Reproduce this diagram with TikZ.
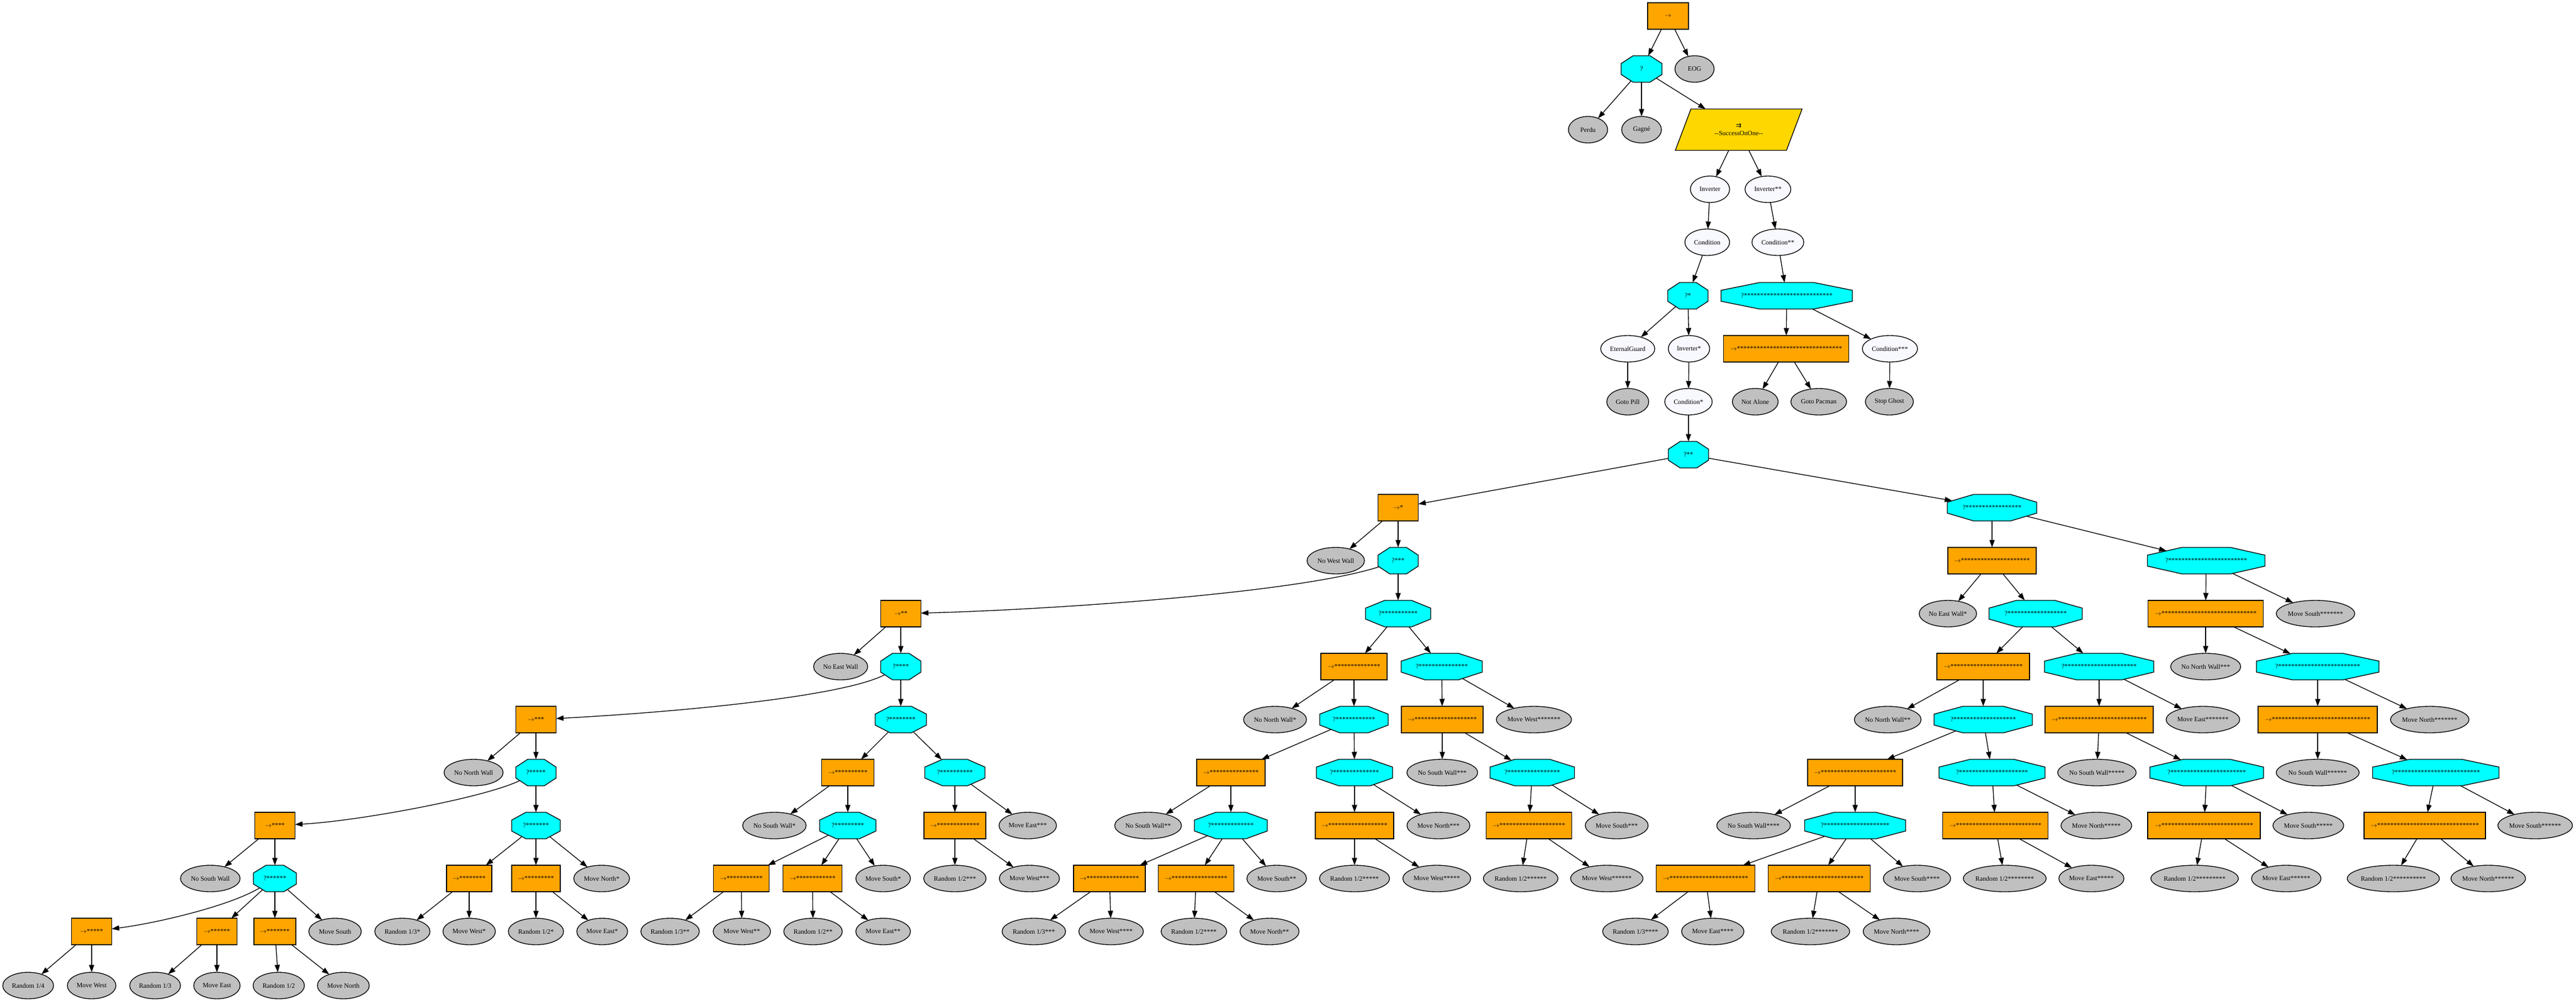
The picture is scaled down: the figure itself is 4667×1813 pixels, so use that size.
\documentclass[tikz,border=0pt]{standalone}
\usepackage{fontspec}
\setmainfont{Liberation Serif}
\newfontfamily\symf{DejaVu Sans}
\usetikzlibrary{shapes.geometric,arrows.meta}
\definecolor{orangec}{HTML}{FFA500}
\definecolor{cyanc}{HTML}{00FFFF}
\definecolor{grayc}{HTML}{C0C0C0}
\definecolor{ghostc}{HTML}{F8F8FF}
\definecolor{goldc}{HTML}{FFD700}
\newcommand{\sq}{\ensuremath{\rightarrow}}
\makeatletter
\pgfdeclareshape{octo}{%
  \inheritsavedanchors[from=rectangle]%
  \inheritanchor[from=rectangle]{center}%
  \inheritanchor[from=rectangle]{north}%
  \inheritanchor[from=rectangle]{south}%
  \inheritanchor[from=rectangle]{east}%
  \inheritanchor[from=rectangle]{west}%
  \inheritanchor[from=rectangle]{text}%
  \inheritanchor[from=rectangle]{base}%
  \inheritanchor[from=rectangle]{mid}%
  \anchorborder{%
    \pgf@xb=\pgf@x \pgf@yb=\pgf@y
    \southwest \pgf@xa=\pgf@x \pgf@ya=\pgf@y
    \northeast
    \advance\pgf@x by-\pgf@xa \advance\pgf@y by-\pgf@ya
    \pgf@xc=.5\pgf@x \pgf@yc=.5\pgf@y
    \advance\pgf@xa by\pgf@xc \advance\pgf@ya by\pgf@yc
    \edef\octA{\the\pgf@xc}\edef\octB{\the\pgf@yc}%
    \edef\octCx{\the\pgf@xa}\edef\octCy{\the\pgf@ya}%
    \edef\octDx{\the\pgf@xb}\edef\octDy{\the\pgf@yb}%
    \pgfmathparse{max(abs(\octDx),abs(\octDy),0.001)}\let\octN\pgfmathresult
    \pgfmathparse{abs(\octDx)/\octN}\let\octUx\pgfmathresult
    \pgfmathparse{abs(\octDy)/\octN}\let\octUy\pgfmathresult
    \pgfmathparse{min(\octB/max(\octUy,0.01),\octA/max(\octUx,0.01),1.4142/(\octUx/\octA+\octUy/\octB))}\let\octT\pgfmathresult
    \pgfmathparse{(\octDx<0)?-1:1}\let\octSx\pgfmathresult
    \pgfmathparse{(\octDy<0)?-1:1}\let\octSy\pgfmathresult
    \pgfmathsetmacro\octRx{\octCx+\octSx*\octT*\octUx}%
    \pgfmathsetmacro\octRy{\octCy+\octSy*\octT*\octUy}%
    \pgf@x=\octRx pt\relax
    \pgf@y=\octRy pt\relax
  }%
  \backgroundpath{%
    \southwest \pgf@xa=\pgf@x \pgf@ya=\pgf@y
    \northeast \pgf@xb=\pgf@x \pgf@yb=\pgf@y
    \pgf@xc=\pgf@xb \advance\pgf@xc by-\pgf@xa
    \pgf@yc=\pgf@yb \advance\pgf@yc by-\pgf@ya
    \pgf@xc=0.2929\pgf@xc \pgf@yc=0.2929\pgf@yc
    \edef\octxa{\the\pgf@xa}\edef\octya{\the\pgf@ya}%
    \edef\octxb{\the\pgf@xb}\edef\octyb{\the\pgf@yb}%
    \edef\octxc{\the\pgf@xc}\edef\octyc{\the\pgf@yc}%
    \pgfpathmoveto{\pgfpoint{\octxa+\octxc}{\octya}}%
    \pgfpathlineto{\pgfpoint{\octxb-\octxc}{\octya}}%
    \pgfpathlineto{\pgfpoint{\octxb}{\octya+\octyc}}%
    \pgfpathlineto{\pgfpoint{\octxb}{\octyb-\octyc}}%
    \pgfpathlineto{\pgfpoint{\octxb-\octxc}{\octyb}}%
    \pgfpathlineto{\pgfpoint{\octxa+\octxc}{\octyb}}%
    \pgfpathlineto{\pgfpoint{\octxa}{\octyb-\octyc}}%
    \pgfpathlineto{\pgfpoint{\octxa}{\octya+\octyc}}%
    \pgfpathclose
  }%
}
\makeatother
\tikzset{
  nodebase/.style={draw=black, line width=1.35pt, outer sep=0pt, minimum height=48pt,
    font=\fontsize{11.9pt}{14pt}\selectfont},
  seqbox/.style={nodebase, rectangle, fill=orangec, inner xsep=2pt, inner ysep=0pt, minimum width=73pt},
  selnode/.style={nodebase, octo, fill=cyanc, inner xsep=2pt, inner ysep=0pt, minimum width=73pt},
  leaf/.style={nodebase, ellipse, fill=grayc, inner xsep=0pt, inner ysep=0pt, minimum width=71pt},
  deco/.style={nodebase, ellipse, fill=ghostc, inner xsep=0pt, inner ysep=0pt, minimum width=71pt},
  succ/.style={nodebase, trapezium, trapezium left angle=57, trapezium right angle=123,
    trapezium stretches=true, minimum width=230pt, minimum height=75pt, fill=goldc,
    align=center, inner sep=0pt},
  link/.style={line width=1.35pt, -{Triangle[length=13.5pt,width=9.4pt]}}
}
\begin{document}
\begin{tikzpicture}[x=1pt,y=-1pt]
\useasboundingbox (0,0) rectangle (4667,1813);
% rank 0-8
\node[seqbox, minimum width=74pt] (seq0) at (3022,29) {\sq};
\node[selnode, minimum width=74pt] (sel0) at (2974,125) {?};
\node[leaf] (eog) at (3070,125) {EOG};
\node[leaf] (perdu) at (2877,235) {Perdu};
\node[leaf, minimum width=72pt] (gagne) at (2974,235) {Gagné};
\node[succ] (suc) at (3150,235) {{\symf ⇉}\\-\kern0pt-SuccessOnOne-\kern0pt-};
\node[deco] (inv0) at (3098,343) {Inverter};
\node[deco, minimum width=83pt] (inv2) at (3203,343) {Inverter**};
\node[deco, minimum width=81pt] (cond0) at (3093,439) {Condition};
\node[deco, minimum width=94pt] (cond2) at (3221,439) {Condition**};
\node[selnode] (sel1) at (3058,536) {?*};
\node[selnode, minimum width=238pt] (sel27) at (3237,536) {?*****{}*****{}*****{}*****{}*****{}**};
\node[deco, minimum width=98pt] (eg) at (2949,632) {EternalGuard};
\node[deco, minimum width=75pt] (inv1) at (3060,632) {Inverter*};
\node[seqbox, minimum width=227pt] (seq32) at (3236,632) {\sq*****{}*****{}*****{}*****{}*****{}*****{}**};
\node[deco, minimum width=100pt] (cond3) at (3424,632) {Condition***};
\node[leaf, minimum width=76pt] (gotopill) at (2949,728) {Goto Pill};
\node[deco, minimum width=86pt] (cond1) at (3059,728) {Condition*};
\node[leaf, minimum width=83pt] (notalone) at (3180,728) {Not Alone};
\node[leaf, minimum width=101pt] (gotopac) at (3295,728) {Goto Pacman};
\node[leaf, minimum width=87pt] (stopghost) at (3423,728) {Stop Ghost};
\node[selnode] (sel2) at (3059,824) {?**};
% rank 9
\node[seqbox] (seq1) at (2533,920) {\sq*};
\node[selnode, minimum width=162pt] (sel17) at (3609,920) {?*****{}*****{}*****{}**};
% rank 10
\node[leaf, minimum width=104pt] (nww) at (2420,1016) {No West Wall};
\node[selnode] (sel3) at (2533,1016) {?***};
\node[seqbox, minimum width=160pt] (seq21) at (3609,1016) {\sq*****{}*****{}*****{}*****{}*};
\node[selnode, minimum width=213pt] (sel24) at (3997,1016) {?*****{}*****{}*****{}*****{}****};
% rank 11
\node[seqbox] (seq2) at (1632,1112) {\sq**};
\node[selnode, minimum width=118pt] (sel11) at (2533,1112) {?*****{}*****{}*};
\node[leaf, minimum width=104pt] (new1) at (3529,1112) {No East Wall*};
\node[selnode, minimum width=169pt] (sel18) at (3688,1112) {?*****{}*****{}*****{}***};
\node[seqbox, minimum width=209pt] (seq29) at (3996,1112) {\sq*****{}*****{}*****{}*****{}*****{}****};
\node[leaf, minimum width=142pt] (s7) at (4195,1112) {Move South*****{}**};
% rank 12
\node[leaf, minimum width=98pt] (new0) at (1523,1208) {No East Wall};
\node[selnode] (sel4) at (1632,1208) {?****};
\node[seqbox, minimum width=120pt] (seq14) at (2453,1208) {\sq*****{}*****{}****};
\node[selnode, minimum width=147pt] (sel15) at (2612,1208) {?*****{}*****{}*****};
\node[seqbox, minimum width=168pt] (seq22) at (3593,1208) {\sq*****{}*****{}*****{}*****{}**};
\node[selnode, minimum width=198pt] (sel22) at (3803,1208) {?*****{}*****{}*****{}*****{}**};
\node[leaf, minimum width=127pt] (nnw3) at (3996,1208) {No North Wall***};
\node[selnode, minimum width=222pt] (sel25) at (4199,1208) {?*****{}*****{}*****{}*****{}*****};
% rank 13
\node[seqbox] (seq3) at (971,1304) {\sq***};
\node[selnode, minimum width=93pt] (sel8) at (1632,1304) {?*****{}***};
\node[leaf, minimum width=114pt] (nnw1) at (2310,1304) {No North Wall*};
\node[selnode, minimum width=124pt] (sel12) at (2453,1304) {?*****{}*****{}**};
\node[seqbox, minimum width=148pt] (seq19) at (2613,1304) {\sq*****{}*****{}*****{}****};
\node[leaf, minimum width=136pt] (w7) at (2779,1304) {Move West*****{}**};
\node[leaf, minimum width=121pt] (nnw2) at (3420,1304) {No North Wall**};
\node[selnode, minimum width=178pt] (sel19) at (3593,1304) {?*****{}*****{}*****{}****};
\node[seqbox, minimum width=196pt] (seq27) at (3803,1304) {\sq*****{}*****{}*****{}*****{}*****{}**};
\node[leaf, minimum width=133pt] (e7) at (3991,1304) {Move East*****{}**};
\node[seqbox, minimum width=216pt] (seq30) at (4199,1304) {\sq*****{}*****{}*****{}*****{}*****{}*****};
\node[leaf, minimum width=142pt] (n7) at (4402,1304) {Move North*****{}**};
% rank 14
\node[leaf, minimum width=107pt] (nnw0) at (858,1400) {No North Wall};
\node[selnode] (sel5) at (971,1400) {?*****};
\node[seqbox, minimum width=95pt] (seq10) at (1536,1400) {\sq*****{}*****};
\node[selnode, minimum width=109pt] (sel10) at (1730,1400) {?*****{}*****};
\node[seqbox, minimum width=124pt] (seq15) at (2230,1400) {\sq*****{}*****{}*****};
\node[selnode, minimum width=138pt] (sel14) at (2454,1400) {?*****{}*****{}****};
\node[leaf, minimum width=128pt] (nsw3) at (2613,1400) {No South Wall***};
\node[selnode, minimum width=153pt] (sel16) at (2776,1400) {?*****{}*****{}*****{}*};
\node[seqbox, minimum width=172pt] (seq23) at (3361,1400) {\sq*****{}*****{}*****{}*****{}***};
\node[selnode, minimum width=192pt] (sel21) at (3609,1400) {?*****{}*****{}*****{}*****{}*};
\node[leaf, minimum width=142pt] (nsw5) at (3799,1400) {No South Wall*****};
\node[selnode, minimum width=206pt] (sel23) at (3998,1400) {?*****{}*****{}*****{}*****{}***};
\node[leaf, minimum width=150pt] (nsw6) at (4199,1400) {No South Wall*****{}*};
\node[selnode, minimum width=229pt] (sel26) at (4413,1400) {?*****{}*****{}*****{}*****{}*****{}*};
% rank 15
\node[seqbox] (seq4) at (498,1496) {\sq****};
\node[selnode, minimum width=88pt] (sel7) at (971,1496) {?*****{}**};
\node[leaf, minimum width=115pt] (nsw1) at (1403,1496) {No South Wall*};
\node[selnode, minimum width=102pt] (sel9) at (1536,1496) {?*****{}****};
\node[seqbox, minimum width=112pt] (seq13) at (1730,1496) {\sq*****{}*****{}***};
\node[leaf, minimum width=104pt] (e3) at (1862,1496) {Move East***};
\node[leaf, minimum width=121pt] (nsw2) at (2080,1496) {No South Wall**};
\node[selnode, minimum width=132pt] (sel13) at (2230,1496) {?*****{}*****{}***};
\node[seqbox, minimum width=142pt] (seq18) at (2454,1496) {\sq*****{}*****{}*****{}***};
\node[leaf, minimum width=114pt] (n3) at (2606,1496) {Move North***};
\node[seqbox, minimum width=155pt] (seq20) at (2770,1496) {\sq*****{}*****{}*****{}*****};
\node[leaf, minimum width=114pt] (s3) at (2929,1496) {Move South***};
\node[leaf, minimum width=133pt] (nsw4) at (3177,1496) {No South Wall****};
\node[selnode, minimum width=183pt] (sel20) at (3361,1496) {?*****{}*****{}*****{}*****};
\node[seqbox, minimum width=191pt] (seq26) at (3615,1496) {\sq*****{}*****{}*****{}*****{}*****{}*};
\node[leaf, minimum width=128pt] (n5) at (3798,1496) {Move North*****};
\node[seqbox, minimum width=204pt] (seq28) at (3993,1496) {\sq*****{}*****{}*****{}*****{}*****{}***};
\node[leaf, minimum width=128pt] (s5) at (4182,1496) {Move South*****};
\node[seqbox, minimum width=220pt] (seq31) at (4393,1496) {\sq*****{}*****{}*****{}*****{}*****{}*****{}*};
\node[leaf, minimum width=135pt] (s6) at (4593,1496) {Move South*****{}*};
% rank 16
\node[leaf, minimum width=108pt] (nsw0) at (381,1592) {No South Wall};
\node[selnode, minimum width=78pt] (sel6) at (498,1592) {?*****{}*};
\node[seqbox, minimum width=82pt] (seq8) at (850,1592) {\sq*****{}***};
\node[seqbox, minimum width=88pt] (seq9) at (971,1592) {\sq*****{}****};
\node[leaf, minimum width=101pt] (n1) at (1090,1592) {Move North*};
\node[seqbox, minimum width=101pt] (seq11) at (1343,1592) {\sq*****{}*****{}*};
\node[seqbox, minimum width=107pt] (seq12) at (1472,1592) {\sq*****{}*****{}**};
\node[leaf, minimum width=99pt] (s1) at (1600,1592) {Move South*};
\node[leaf, minimum width=113pt] (h3) at (1730,1592) {Random 1/2***};
\node[leaf, minimum width=109pt] (w3) at (1865,1592) {Move West***};
\node[seqbox, minimum width=130pt] (seq16) at (2010,1592) {\sq*****{}*****{}*****{}*};
\node[seqbox, minimum width=137pt] (seq17) at (2167,1592) {\sq*****{}*****{}*****{}**};
\node[leaf, minimum width=108pt] (s2) at (2313,1592) {Move South**};
\node[leaf, minimum width=127pt] (h5) at (2454,1592) {Random 1/2*****};
\node[leaf, minimum width=123pt] (w5) at (2603,1592) {Move West*****};
\node[leaf, minimum width=135pt] (h6) at (2755,1592) {Random 1/2*****{}*};
\node[leaf, minimum width=131pt] (w6) at (2911,1592) {Move West*****{}*};
\node[seqbox, minimum width=179pt] (seq24) at (3090,1592) {\sq*****{}*****{}*****{}*****{}****};
\node[seqbox, minimum width=185pt] (seq25) at (3296,1592) {\sq*****{}*****{}*****{}*****{}*****};
\node[leaf, minimum width=122pt] (s4) at (3473,1592) {Move South****};
\node[leaf, minimum width=147pt] (h8) at (3632,1592) {Random 1/2*****{}***};
\node[leaf, minimum width=118pt] (e5) at (3789,1592) {Move East*****};
\node[leaf, minimum width=155pt] (h9) at (3976,1592) {Random 1/2*****{}****};
\node[leaf, minimum width=126pt] (e6) at (4142,1592) {Move East*****{}*};
\node[leaf, minimum width=161pt] (h10) at (4336,1592) {Random 1/2*****{}*****};
\node[leaf, minimum width=135pt] (n6) at (4508,1592) {Move North*****{}*};
% rank 17
\node[seqbox] (seq5) at (166,1688) {\sq*****};
\node[seqbox] (seq6) at (393,1688) {\sq*****{}*};
\node[seqbox, minimum width=76pt] (seq7) at (498,1688) {\sq*****{}**};
\node[leaf, minimum width=95pt] (s0) at (607,1688) {Move South};
\node[leaf, minimum width=100pt] (t1) at (729,1688) {Random 1/3*};
\node[leaf, minimum width=95pt] (w1) at (850,1688) {Move West*};
\node[leaf, minimum width=100pt] (h1) at (971,1688) {Random 1/2*};
\node[leaf, minimum width=92pt] (e1) at (1091,1688) {Move East*};
\node[leaf, minimum width=106pt] (t2) at (1214,1688) {Random 1/3**};
\node[leaf, minimum width=104pt] (w2) at (1344,1688) {Move West**};
\node[leaf, minimum width=106pt] (h2) at (1473,1688) {Random 1/2**};
\node[leaf, minimum width=99pt] (e2) at (1600,1688) {Move East**};
\node[leaf, minimum width=115pt] (t3) at (1873,1688) {Random 1/3***};
\node[leaf, minimum width=117pt] (w4) at (2013,1688) {Move West****};
\node[leaf, minimum width=119pt] (h4) at (2163,1688) {Random 1/2****};
\node[leaf, minimum width=107pt] (n2) at (2300,1688) {Move North**};
\node[leaf, minimum width=119pt] (t4) at (2963,1688) {Random 1/3****};
\node[leaf, minimum width=113pt] (e4) at (3103,1688) {Move East****};
\node[leaf, minimum width=142pt] (h7) at (3280,1688) {Random 1/2*****{}**};
\node[leaf, minimum width=121pt] (n4) at (3436,1688) {Move North****};
% rank 18
\node[leaf, minimum width=92pt] (q0) at (51,1786) {Random 1/4};
\node[leaf, minimum width=88pt] (w0) at (166,1786) {Move West};
\node[leaf, minimum width=92pt] (t0) at (281,1786) {Random 1/3};
\node[leaf, minimum width=84pt] (e0) at (393,1786) {Move East};
\node[leaf, minimum width=93pt] (h0) at (505,1786) {Random 1/2};
\node[leaf, minimum width=94pt] (n0) at (622,1786) {Move North};
% straight connectors
\foreach \a/\b in {seq0/sel0, seq0/eog, sel0/perdu, sel0/gagne, sel0/suc, suc/inv0, suc/inv2,
  inv0/cond0, cond0/sel1, sel1/eg, sel1/inv1, eg/gotopill, inv1/cond1, cond1/sel2,
  sel2/seq1, sel2/sel17, seq1/nww, seq1/sel3, sel3/sel11, seq2/new0, seq2/sel4, sel4/sel8,
  seq3/nnw0, seq3/sel5, sel5/sel7, seq4/nsw0, seq4/sel6, sel6/seq6, sel6/seq7, sel6/s0,
  seq5/q0, seq5/w0, seq6/t0, seq6/e0, seq7/h0, seq7/n0, sel7/seq8, sel7/seq9, sel7/n1,
  seq8/t1, seq8/w1, seq9/h1, seq9/e1, sel8/seq10, sel8/sel10, seq10/nsw1, seq10/sel9,
  sel9/seq11, sel9/seq12, sel9/s1, seq11/t2, seq11/w2, seq12/h2, seq12/e2, sel10/seq13,
  sel10/e3, seq13/h3, seq13/w3, sel11/seq14, sel11/sel15, seq14/nnw1, seq14/sel12,
  sel12/seq15, sel12/sel14, seq15/nsw2, seq15/sel13, sel13/seq16, sel13/seq17, sel13/s2,
  seq16/t3, seq16/w4, seq17/h4, seq17/n2, sel14/seq18, sel14/n3, seq18/h5, seq18/w5,
  sel15/seq19, sel15/w7, seq19/nsw3, seq19/sel16, sel16/seq20, sel16/s3, seq20/h6, seq20/w6,
  sel17/seq21, sel17/sel24, seq21/new1, seq21/sel18, sel18/seq22, sel18/sel22, seq22/nnw2,
  seq22/sel19, sel19/seq23, sel19/sel21, seq23/nsw4, seq23/sel20, sel20/seq24, sel20/seq25,
  sel20/s4, seq24/t4, seq24/e4, seq25/h7, seq25/n4, sel21/seq26, sel21/n5, seq26/h8,
  seq26/e5, sel22/seq27, sel22/e7, seq27/nsw5, seq27/sel23, sel23/seq28, sel23/s5,
  seq28/h9, seq28/e6, sel24/seq29, sel24/s7, seq29/nnw3, seq29/sel25, sel25/seq30,
  sel25/n7, seq30/nsw6, seq30/sel26, sel26/seq31, sel26/s6, seq31/h10, seq31/n6,
  inv2/cond2, cond2/sel27, sel27/seq32, sel27/cond3, seq32/notalone, seq32/gotopac,
  cond3/stopghost}
  \draw[link] (\a) -- (\b);
% curved connectors
\draw[link] (sel3) .. controls (2350,1075) and (1900,1105) .. (seq2);
\draw[link] (sel4) .. controls (1520,1265) and (1200,1292) .. (seq3);
\draw[link] (sel5) .. controls (880,1445) and (650,1488) .. (seq4);
\draw[link] (sel6) .. controls (420,1640) and (290,1672) .. (seq5);
\end{tikzpicture}
\end{document}
